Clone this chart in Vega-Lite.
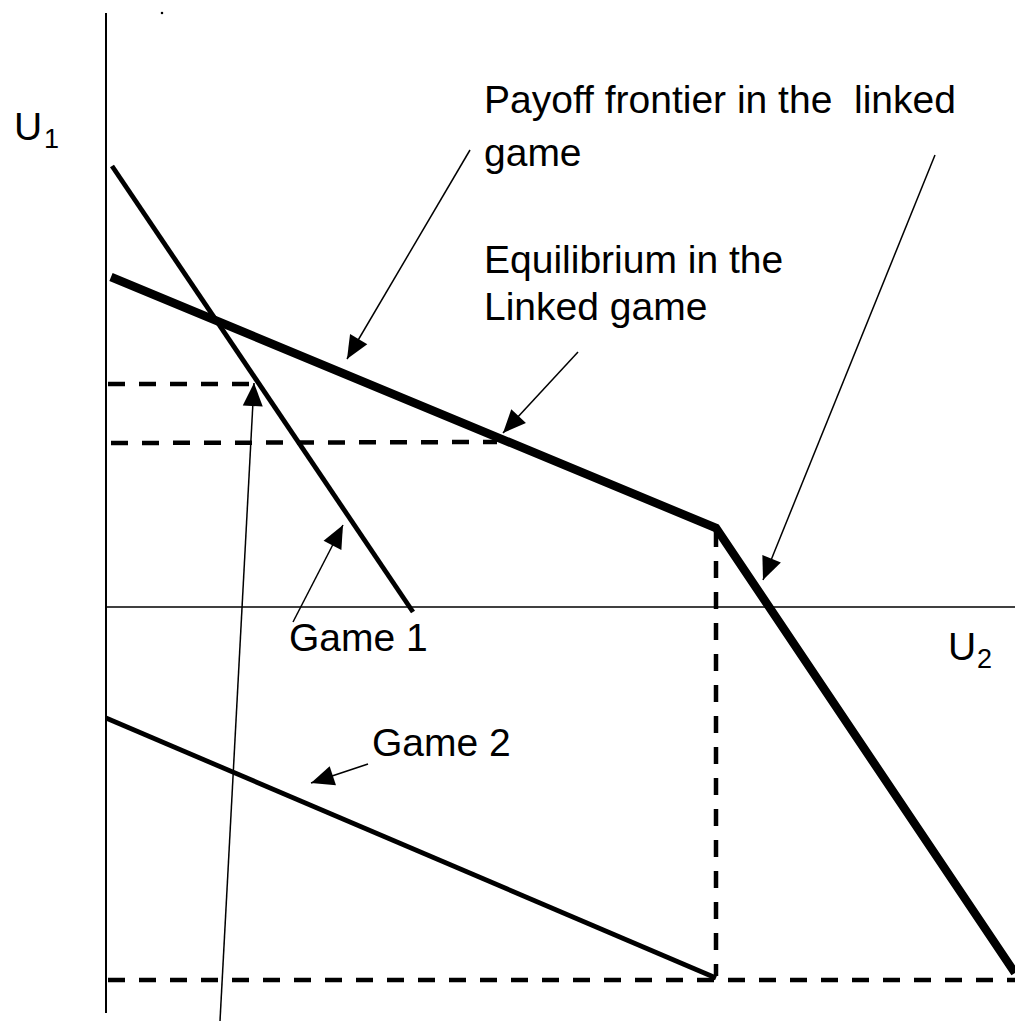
{
  "$schema": "https://vega.github.io/schema/vega-lite/v6.json",
  "width": 1015,
  "height": 1021,
  "autosize": "none",
  "padding": 0,
  "background": "white",
  "config": {"view": {"stroke": null}},
  "datasets": {
    "segs": [
      {"id": "axisV", "kind": "axis", "ord": 1, "u2": 0, "u1": 594},
      {"id": "axisV", "kind": "axis", "ord": 2, "u2": 0, "u1": -406},
      {"id": "axisH", "kind": "axisthin", "ord": 1, "u2": 0, "u1": 0},
      {"id": "axisH", "kind": "axisthin", "ord": 2, "u2": 909, "u1": 0},
      {"id": "game1", "kind": "game", "ord": 1, "u2": 6, "u1": 441},
      {"id": "game1", "kind": "game", "ord": 2, "u2": 307, "u1": -5},
      {"id": "game2", "kind": "game", "ord": 1, "u2": 0, "u1": -111},
      {"id": "game2", "kind": "game", "ord": 2, "u2": 610, "u1": -371},
      {"id": "frontier", "kind": "frontier", "ord": 1, "u2": 5, "u1": 330},
      {"id": "frontier", "kind": "frontier", "ord": 2, "u2": 610, "u1": 79},
      {"id": "frontier", "kind": "frontier", "ord": 3, "u2": 909, "u1": -366},
      {"id": "d1", "kind": "dashed", "ord": 1, "u2": 2, "u1": 223},
      {"id": "d1", "kind": "dashed", "ord": 2, "u2": 156, "u1": 223},
      {"id": "d2", "kind": "dashed", "ord": 1, "u2": 5, "u1": 164},
      {"id": "d2", "kind": "dashed", "ord": 2, "u2": 391, "u1": 165},
      {"id": "d3", "kind": "dashed", "ord": 1, "u2": 610, "u1": 77},
      {"id": "d3", "kind": "dashed", "ord": 2, "u2": 610, "u1": -369},
      {"id": "d4", "kind": "dashed", "ord": 1, "u2": 2, "u1": -373},
      {"id": "d4", "kind": "dashed", "ord": 2, "u2": 909, "u1": -373}
    ],
    "arrows": [
      {"id": "a1", "tail_u2": 364, "tail_u1": 457, "tip_u2": 241, "tip_u1": 248},
      {"id": "a2", "tail_u2": 829, "tail_u1": 452, "tip_u2": 657, "tip_u1": 27},
      {"id": "a3", "tail_u2": 472, "tail_u1": 255, "tip_u2": 397, "tip_u1": 174},
      {"id": "a4", "tail_u2": 187, "tail_u1": -15, "tip_u2": 237, "tip_u1": 82},
      {"id": "a5", "tail_u2": 262, "tail_u1": -157, "tip_u2": 205, "tip_u1": -176},
      {"id": "a6", "tail_u2": 114, "tail_u1": -414, "tip_u2": 148, "tip_u1": 224}
    ],
    "labels": [
      {"txt": "U", "kind": "main", "u2": -92, "u1": 467},
      {"txt": "1", "kind": "sub", "u2": -62, "u1": 459},
      {"txt": "Payoff frontier in the \u00a0linked", "kind": "main", "u2": 378, "u1": 494},
      {"txt": "game", "kind": "main", "u2": 378, "u1": 441},
      {"txt": "Equilibrium in the", "kind": "main", "u2": 378, "u1": 334},
      {"txt": "Linked game", "kind": "main", "u2": 378, "u1": 287},
      {"txt": "Game 1", "kind": "main", "u2": 183, "u1": -44},
      {"txt": "Game 2", "kind": "main", "u2": 266, "u1": -149},
      {"txt": "U", "kind": "main", "u2": 842, "u1": -53},
      {"txt": "2", "kind": "sub", "u2": 871, "u1": -61}
    ],
    "dots": [
      {"u2": 56, "u1": 594}
    ]
  },
  "layer": [
    {
      "data": {"name": "segs"},
      "transform": [{"filter": "datum.kind === 'axis'"}],
      "mark": {"type": "line", "color": "black", "strokeWidth": 2, "strokeCap": "butt"},
      "encoding": {
        "x": {"field": "u2", "type": "quantitative", "scale": {"domain": [-106, 909], "zero": false, "nice": false}, "axis": null},
        "y": {"field": "u1", "type": "quantitative", "scale": {"domain": [-414, 607], "zero": false, "nice": false}, "axis": null},
        "detail": {"field": "id"},
        "order": {"field": "ord", "type": "quantitative"}
      }
    },
    {
      "data": {"name": "segs"},
      "transform": [{"filter": "datum.kind === 'axisthin'"}],
      "mark": {"type": "line", "color": "black", "strokeWidth": 1.6, "strokeCap": "butt"},
      "encoding": {
        "x": {"field": "u2", "type": "quantitative", "axis": null},
        "y": {"field": "u1", "type": "quantitative", "axis": null},
        "detail": {"field": "id"},
        "order": {"field": "ord", "type": "quantitative"}
      }
    },
    {
      "data": {"name": "segs"},
      "transform": [{"filter": "datum.kind === 'game'"}],
      "mark": {"type": "line", "color": "black", "strokeWidth": 4.8, "strokeCap": "butt"},
      "encoding": {
        "x": {"field": "u2", "type": "quantitative", "axis": null},
        "y": {"field": "u1", "type": "quantitative", "axis": null},
        "detail": {"field": "id"},
        "order": {"field": "ord", "type": "quantitative"}
      }
    },
    {
      "data": {"name": "segs"},
      "transform": [{"filter": "datum.kind === 'frontier'"}],
      "mark": {"type": "line", "color": "black", "strokeWidth": 8.5, "strokeCap": "butt", "strokeJoin": "miter"},
      "encoding": {
        "x": {"field": "u2", "type": "quantitative", "axis": null},
        "y": {"field": "u1", "type": "quantitative", "axis": null},
        "detail": {"field": "id"},
        "order": {"field": "ord", "type": "quantitative"}
      }
    },
    {
      "data": {"name": "segs"},
      "transform": [{"filter": "datum.kind === 'dashed'"}],
      "mark": {"type": "line", "color": "black", "strokeWidth": 4.5, "strokeCap": "butt", "strokeDash": [17, 14]},
      "encoding": {
        "x": {"field": "u2", "type": "quantitative", "axis": null},
        "y": {"field": "u1", "type": "quantitative", "axis": null},
        "detail": {"field": "id"},
        "order": {"field": "ord", "type": "quantitative"}
      }
    },
    {
      "data": {"name": "arrows"},
      "mark": {"type": "rule", "color": "black", "strokeWidth": 1.5},
      "encoding": {
        "x": {"field": "tail_u2", "type": "quantitative", "axis": null},
        "y": {"field": "tail_u1", "type": "quantitative", "axis": null},
        "x2": {"field": "tip_u2"},
        "y2": {"field": "tip_u1"}
      }
    },
    {
      "data": {"name": "arrows"},
      "transform": [
        {"calculate": "atan2(datum.tip_u2 - datum.tail_u2, datum.tip_u1 - datum.tail_u1) * 180 / PI", "as": "heading"}
      ],
      "mark": {"type": "point", "shape": "M0,0L-1,2.3L1,2.3Z", "filled": true, "color": "black", "opacity": 1, "size": 400, "strokeWidth": 0},
      "encoding": {
        "x": {"field": "tip_u2", "type": "quantitative", "axis": null},
        "y": {"field": "tip_u1", "type": "quantitative", "axis": null},
        "angle": {"field": "heading", "type": "quantitative", "scale": null}
      }
    },
    {
      "data": {"name": "dots"},
      "mark": {"type": "point", "shape": "square", "filled": true, "color": "black", "opacity": 1, "size": 5},
      "encoding": {
        "x": {"field": "u2", "type": "quantitative", "axis": null},
        "y": {"field": "u1", "type": "quantitative", "axis": null}
      }
    },
    {
      "data": {"name": "labels"},
      "transform": [{"filter": "datum.kind === 'main'"}],
      "mark": {"type": "text", "align": "left", "baseline": "alphabetic", "font": "Liberation Sans", "fontSize": 39, "color": "black"},
      "encoding": {
        "x": {"field": "u2", "type": "quantitative", "axis": null},
        "y": {"field": "u1", "type": "quantitative", "axis": null},
        "text": {"field": "txt"}
      }
    },
    {
      "data": {"name": "labels"},
      "transform": [{"filter": "datum.kind === 'sub'"}],
      "mark": {"type": "text", "align": "left", "baseline": "alphabetic", "font": "Liberation Sans", "fontSize": 27, "color": "black"},
      "encoding": {
        "x": {"field": "u2", "type": "quantitative", "axis": null},
        "y": {"field": "u1", "type": "quantitative", "axis": null},
        "text": {"field": "txt"}
      }
    }
  ]
}
